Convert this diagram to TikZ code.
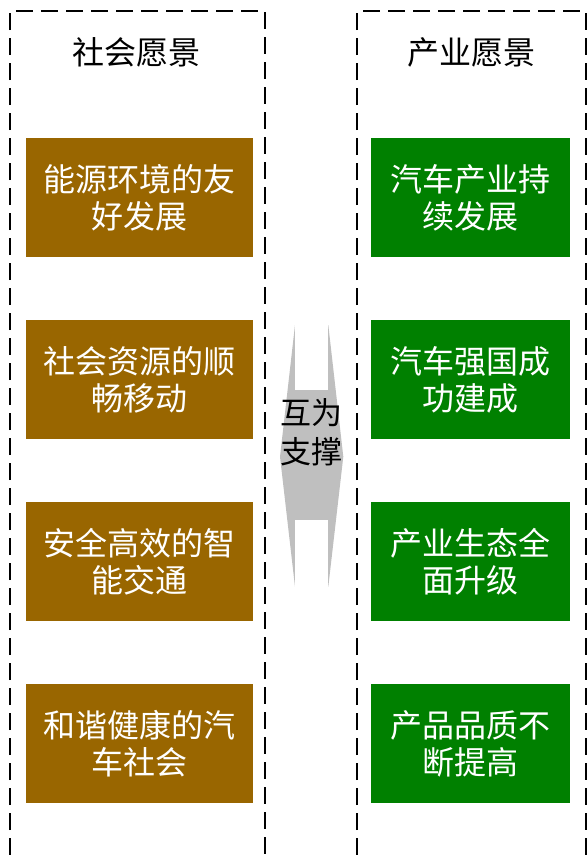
\documentclass[tikz,border=0pt]{standalone}
\usepackage{fontspec}
\setmainfont{Noto Sans CJK SC}
\definecolor{brownc}{RGB}{153,102,0}
\definecolor{greenc}{RGB}{0,128,0}
\definecolor{grayc}{RGB}{191,191,191}
\begin{document}
\begin{tikzpicture}[x=1pt,y=-1pt,
  frame/.style={draw=black,line width=2.3pt,dash pattern=on 17pt off 8pt},
  vbox/.style={minimum height=119pt,inner sep=0pt,align=center,text=white,
    font=\fontsize{32}{37}\selectfont},
  lbox/.style={vbox,fill=brownc,minimum width=227pt},
  rbox/.style={vbox,fill=greenc,minimum width=199pt},
  title/.style={font=\fontsize{32}{37}\selectfont,text=black,inner sep=0pt},
  mid/.style={font=\fontsize{31}{39}\selectfont,text=black,align=center,inner sep=0pt}]
\useasboundingbox (0,0) rectangle (587,855);
\clip (0,0) rectangle (587,855);
\draw[frame] (10,880) -- (10,11) -- (265,11) -- (265,880);
\draw[frame] (357,880) -- (357,11) -- (586,11) -- (586,880);
\node[title] (t1) at (136,52) {社会愿景};
\node[title] (t2) at (471,52) {产业愿景};
\node[lbox] (s1) at (139.2,197.5) {能源环境的友\\好发展};
\node[lbox] (s2) at (139.2,379.5) {社会资源的顺\\畅移动};
\node[lbox] (s3) at (139.2,561.5) {安全高效的智\\能交通};
\node[lbox] (s4) at (139.2,743.5) {和谐健康的汽\\车社会};
\node[rbox] (i1) at (470.5,197.5) {汽车产业持\\续发展};
\node[rbox] (i2) at (470.5,379.5) {汽车强国成\\功建成};
\node[rbox] (i3) at (470.5,561.5) {产业生态全\\面升级};
\node[rbox] (i4) at (470.5,743.5) {产品品质不\\断提高};
\fill[grayc] (295,325) -- (328.3,325) -- (343.3,456.7) -- (328.3,586.7) -- (295,586.7) -- (280,456.7) -- cycle;
\fill[white] (295,324) rectangle (328.3,390);
\fill[white] (295,520) rectangle (328.3,588);
\node[mid] (m) at (311.5,432.5) {互为\\支撑};
\end{tikzpicture}
\end{document}
